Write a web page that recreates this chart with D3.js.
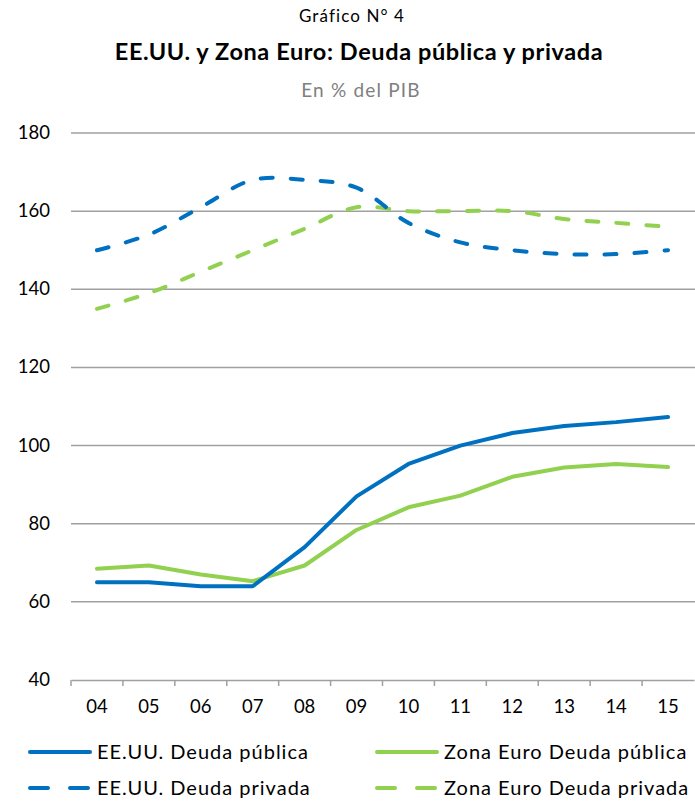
<!DOCTYPE html>
<html>
<head>
<meta charset="utf-8">
<script src="https://cdn.jsdelivr.net/npm/d3@7"></script>
<style>
  body { margin: 0; background: #fff; }
  text { font-family: Lato, "Open Sans", sans-serif; }
</style>
</head>
<body>
<script>
// data
var years = ["04", "05", "06", "07", "08", "09", "10", "11", "12", "13", "14", "15"];
var usPublic = [65, 65, 64, 64, 74, 87, 95.3, 100, 103.2, 105, 106, 107.3];
var euPublic = [68.5, 69.3, 67, 65.3, 69.3, 78.4, 84.2, 87.2, 92, 94.4, 95.3, 94.5];
var usPrivate = [150, 154, 161, 168, 168, 166, 157, 152, 150, 149, 149, 150];
var euPrivate = [135, 139, 144.5, 150, 155.5, 161, 160, 160, 160, 158, 157, 156];
var yTicks = [40, 60, 80, 100, 120, 140, 160, 180];

var W = 695, H = 803;
var blue = "#0070c0", green = "#92d050";

var svg = d3.select("body").append("svg")
  .attr("width", W).attr("height", H);

var x = d3.scaleBand().domain(years).range([71, 694]);
var y = d3.scaleLinear().domain([40, 180]).range([680, 133]);

// titles
svg.append("text").attr("x", 352).attr("y", 22).attr("text-anchor", "middle")
  .style("font-size", "17px").style("letter-spacing", "1.1px").attr("fill", "#000")
  .text("Gráfico N° 4");
svg.append("text").attr("x", 359).attr("y", 60).attr("text-anchor", "middle")
  .style("font-size", "23.5px").style("font-weight", "bold").style("letter-spacing", "0.6px")
  .attr("fill", "#000")
  .text("EE.UU. y Zona Euro: Deuda pública y privada");
svg.append("text").attr("x", 361).attr("y", 97).attr("text-anchor", "middle")
  .style("font-size", "19px").style("letter-spacing", "1.2px").attr("fill", "#7f7f7f")
  .text("En % del PIB");

// gridlines
svg.append("g").selectAll("line").data(yTicks.slice(1)).enter().append("line")
  .attr("x1", 71).attr("x2", W).attr("y1", d => y(d)).attr("y2", d => y(d))
  .attr("stroke", "#a0a0a0").attr("stroke-width", 1.5);

// y labels
svg.append("g").selectAll("text").data(yTicks).enter().append("text")
  .attr("x", 50).attr("y", d => y(d) + 6).attr("text-anchor", "end")
  .style("font-size", "18.5px").attr("fill", "#000").text(d => d);

// x axis
var xAxis = svg.append("g").attr("transform", "translate(0,680)")
  .call(d3.axisBottom(x).tickSize(0).tickPadding(20));
xAxis.select(".domain").attr("stroke", "#a0a0a0").attr("stroke-width", 1.5);
xAxis.selectAll("text").style("font-size", "18.5px").attr("fill", "#000")
  .style("font-family", "Lato, sans-serif");
xAxis.selectAll(".edge").data(years).enter().append("line")
  .attr("x1", d => x(d)).attr("x2", d => x(d)).attr("y1", 0).attr("y2", 6)
  .attr("stroke", "#a0a0a0").attr("stroke-width", 1.5);

function cx(i) { return x(years[i]) + x.bandwidth() / 2; }
var straight = d3.line().x((d, i) => cx(i)).y(d => y(d));
var smooth = d3.line().x((d, i) => cx(i)).y(d => y(d)).curve(d3.curveCatmullRom.alpha(0.5));

var series = [
  { vals: euPrivate, color: green, dash: true },
  { vals: usPrivate, color: blue, dash: true },
  { vals: euPublic, color: green, dash: false },
  { vals: usPublic, color: blue, dash: false }
];
series.forEach(function(s) {
  svg.append("path").attr("d", (s.dash ? smooth : straight)(s.vals))
    .attr("fill", "none").attr("stroke", s.color).attr("stroke-width", 4)
    .attr("stroke-linecap", "round").attr("stroke-linejoin", "round")
    .attr("stroke-dasharray", s.dash ? "12,18" : null);
});

// legend
var legend = [
  { name: "EE.UU. Deuda pública", color: blue, dash: false, x: 30, y: 752 },
  { name: "Zona Euro Deuda pública", color: green, dash: false, x: 377, y: 752 },
  { name: "EE.UU. Deuda privada", color: blue, dash: true, x: 30, y: 788 },
  { name: "Zona Euro Deuda privada", color: green, dash: true, x: 377, y: 788 }
];
var lg = svg.append("g").selectAll("g").data(legend).enter().append("g");
lg.append("line").attr("x1", d => d.x).attr("x2", d => d.x + 60)
  .attr("y1", d => d.y).attr("y2", d => d.y)
  .attr("stroke", d => d.color).attr("stroke-width", 4).attr("stroke-linecap", "round")
  .attr("stroke-dasharray", d => d.dash ? "18,22" : null);
lg.append("text").attr("x", d => d.x + 67).attr("y", d => d.y + 7)
  .style("font-size", "20px").style("letter-spacing", "1px")
  .attr("fill", "#000").text(d => d.name);
</script>
</body>
</html>
